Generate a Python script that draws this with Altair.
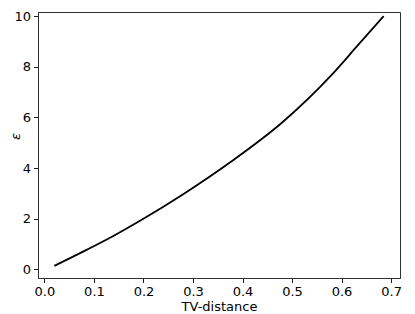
import altair as alt
import pandas as pd

tv = [0.02, 0.085, 0.14, 0.193, 0.281, 0.378, 0.48, 0.58, 0.63, 0.685]
eps = [0.14, 0.77, 1.33, 1.92, 2.98, 4.27, 5.80, 7.68, 8.78, 10.0]

x_ticks = [0.0, 0.1, 0.2, 0.3, 0.4, 0.5, 0.6, 0.7]
y_ticks = [0, 2, 4, 6, 8, 10]

df = pd.DataFrame({"tv": tv, "eps": eps})

FONT = "DejaVu Sans"

chart = alt.Chart(df).mark_line(color="black", strokeWidth=1.8, interpolate="monotone").encode(
    x=alt.X("tv:Q", title="TV-distance",
            scale=alt.Scale(domain=[-0.013, 0.718], nice=False, zero=False),
            axis=alt.Axis(values=x_ticks, format=".1f", titlePadding=2)),
    y=alt.Y("eps:Q", title="ε",
            scale=alt.Scale(domain=[-0.34, 10.16], nice=False, zero=False),
            axis=alt.Axis(values=y_ticks, format="d", titleX=-23, titleY=124,
                          titleAngle=270, titleBaseline="middle", titleAlign="center",
                          titleFontStyle="italic")),
).properties(
    width=362, height=266,
    autosize=alt.AutoSizeParams(type="none"),
    padding={"left": 30, "top": 4, "right": 7, "bottom": 40},
).configure_view(
    stroke="#333333", strokeWidth=1
).configure_axis(
    grid=False, domainColor="#333333", domainWidth=1,
    tickColor="black", tickSize=4.5, tickWidth=0.9,
    labelFont=FONT, labelFontSize=13, labelColor="black", labelPadding=3,
    titleFont=FONT, titleFontSize=13, titleColor="black", titleFontWeight="normal",
)

chart.save("out.html", embed_options={"renderer": "svg", "actions": False})
